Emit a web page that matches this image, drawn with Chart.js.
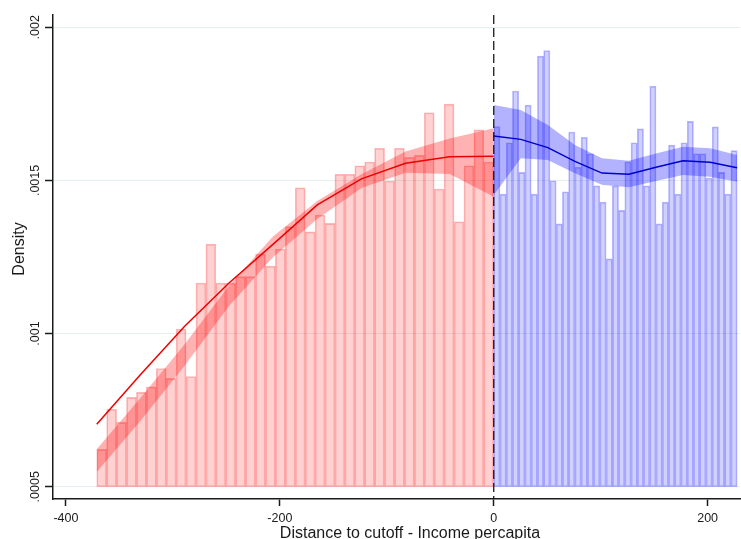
<!DOCTYPE html>
<html lang="en">
<head>
    <meta charset="utf-8"/>
    <title>Density around cutoff</title>
    <script src="https://cdn.jsdelivr.net/npm/chart.js@4"></script>
    <style>
        body {
            margin: 0;
            background: #fff;
        }
        #wrap {
            width: 741px;
            height: 539px;
        }
    </style>
</head>
<body>
<div id="wrap"><canvas id="chart" width="741" height="539"></canvas></div>

<script>
    // Histogram bins: left side (below cutoff) and right side (above cutoff)
    const barBase = 0.0005;
    const redStart = -371.2;
    const redWidth = 9.28;
    const redDensity = [
        0.000622, 0.000753, 0.000710, 0.000792, 0.000808, 0.000826, 0.000886, 0.000854, 0.001015, 0.000860,
        0.001165, 0.001292, 0.001165, 0.001165, 0.001186, 0.001186, 0.001260, 0.001220, 0.001276, 0.001349,
        0.001476, 0.001332, 0.001387, 0.001360, 0.001520, 0.001520, 0.001548, 0.001560, 0.001605, 0.001498,
        0.001605, 0.001575, 0.001582, 0.001721, 0.001472, 0.001749, 0.001365, 0.001548, 0.001665, 0.001560
    ];
    const blueStart = 0;
    const blueWidth = 5.836;
    const blueDensity = [
        0.001676, 0.001455, 0.001623, 0.001792, 0.001526, 0.001746, 0.001455, 0.001906, 0.001924, 0.001499,
        0.001358, 0.001463, 0.001658, 0.001543, 0.001641, 0.001587, 0.001482, 0.001429, 0.001244, 0.001482,
        0.001402, 0.001561, 0.001623, 0.001668, 0.001482, 0.001808, 0.001358, 0.001429, 0.001615, 0.001455,
        0.001623, 0.001693, 0.001587, 0.001587, 0.001508, 0.001675, 0.001526, 0.001455, 0.001597
    ];

    // Fitted density with confidence band, evaluated at 10 points per side
    const redFitX = [-371.2, -330, -289, -247.5, -206.2, -165, -123.7, -82.5, -41.2, 0];
    const redFit = [0.000704, 0.000867, 0.001024, 0.001165, 0.001292, 0.001420, 0.001505, 0.001556, 0.001577, 0.001579];
    const redHigh = [0.000622, 0.000791, 0.000965, 0.001156, 0.001318, 0.001433, 0.001520, 0.001594, 0.001637, 0.001670];
    const redLow = [0.000548, 0.000716, 0.000895, 0.001090, 0.001250, 0.001374, 0.001475, 0.001525, 0.001521, 0.001447];

    const blueFitX = [0, 25.3, 50.6, 75.9, 101.2, 126.4, 151.7, 177, 202.3, 227.6];
    const blueFit = [0.001645, 0.001634, 0.001607, 0.001562, 0.001524, 0.001520, 0.001543, 0.001564, 0.001559, 0.001541];
    const blueHigh = [0.001746, 0.001730, 0.001681, 0.001616, 0.001572, 0.001564, 0.001588, 0.001610, 0.001605, 0.001583];
    const blueLow = [0.001452, 0.001572, 0.001567, 0.001523, 0.001486, 0.001478, 0.001498, 0.001518, 0.001512, 0.001496];

    const xTicks = [-400, -200, 0, 200];
    const yTicks = [0.0005, 0.001, 0.0015, 0.002];
    const yTickLabels = ['.0005', '.001', '.0015', '.002'];
    const cutoff = 0;
    const xTitle = 'Distance to cutoff - Income percapita';
    const yTitle = 'Density';

    const xMin = -412.1, xMax = 230.5;
    const yMin = 0.00046, yMax = 0.00204;
    const fontFamily = "'Liberation Sans', Arial, sans-serif";
    const ink = '#1a1a1a';

    const bins = (start, width, values) =>
        values.map((v, i) => ({x: start + (i + 0.5) * width, y: [barBase, v]}));
    const points = (xs, ys) => xs.map((x, i) => ({x, y: ys[i]}));

    const lineStyle = {type: 'line', pointRadius: 0, tension: 0, fill: false, order: 0};
    const bandEdge = {type: 'line', pointRadius: 0, tension: 0, borderWidth: 0,
        borderColor: 'rgba(0,0,0,0)', order: 1};
    const barStyle = {type: 'bar', order: 2, grouped: false, borderWidth: 1, borderSkipped: false,
        barPercentage: 1, categoryPercentage: 1};

    // cutoff line, rotated y labels and axis titles
    const decorations = {
        id: 'decorations',
        afterDatasetsDraw(chart) {
            const {ctx, chartArea, scales} = chart;
            const xc = scales.x.getPixelForValue(cutoff);
            ctx.save();
            ctx.strokeStyle = ink;
            ctx.lineWidth = 1.3;
            ctx.setLineDash([9, 4]);
            ctx.beginPath();
            ctx.moveTo(xc, chartArea.top);
            ctx.lineTo(xc, chartArea.bottom);
            ctx.stroke();
            ctx.restore();
        },
        afterDraw(chart) {
            const {ctx, scales} = chart;
            ctx.save();
            ctx.fillStyle = ink;
            ctx.textAlign = 'center';
            ctx.textBaseline = 'middle';
            ctx.font = `12.5px ${fontFamily}`;
            yTicks.forEach((v, i) => {
                ctx.save();
                ctx.translate(35.5, scales.y.getPixelForValue(v));
                ctx.rotate(-Math.PI / 2);
                ctx.fillText(yTickLabels[i], 0, 0);
                ctx.restore();
            });
            ctx.font = `16px ${fontFamily}`;
            ctx.save();
            ctx.translate(19.5, 249);
            ctx.rotate(-Math.PI / 2);
            ctx.fillText(yTitle, 0, 0);
            ctx.restore();
            ctx.textBaseline = 'alphabetic';
            ctx.fillText(xTitle, 410, 537.5);
            ctx.restore();
        }
    };

    const chart = new Chart(document.getElementById('chart'), {
        type: 'bar',
        data: {
            datasets: [
                {...lineStyle, data: points(redFitX, redFit), borderColor: 'rgb(238,0,0)', borderWidth: 1.5},
                {...lineStyle, data: points(blueFitX, blueFit), borderColor: 'rgb(0,0,205)', borderWidth: 1.5},
                {...bandEdge, data: points(redFitX, redHigh), fill: false},
                {...bandEdge, data: points(redFitX, redLow), fill: '-1', backgroundColor: 'rgba(255,0,0,0.3)'},
                {...bandEdge, data: points(blueFitX, blueHigh), fill: false},
                {...bandEdge, data: points(blueFitX, blueLow), fill: '-1', backgroundColor: 'rgba(0,0,255,0.3)'},
                {
                    ...barStyle, xAxisID: 'x',
                    data: bins(redStart, redWidth, redDensity),
                    backgroundColor: 'rgba(255,0,0,0.18)', borderColor: 'rgba(255,0,0,0.28)'
                },
                {
                    ...barStyle, xAxisID: 'x2',
                    data: bins(blueStart, blueWidth, blueDensity),
                    backgroundColor: 'rgba(0,0,255,0.18)', borderColor: 'rgba(0,0,255,0.28)'
                }
            ]
        },
        options: {
            responsive: false,
            animation: false,
            layout: {padding: {top: 15, left: 0, right: 0, bottom: 0}},
            plugins: {legend: {display: false}, tooltip: {enabled: false}},
            scales: {
                x: {
                    type: 'linear', min: xMin, max: xMax, offset: false,
                    grid: {offset: false, drawOnChartArea: false, tickLength: 7, tickColor: ink, tickWidth: 1.5},
                    border: {display: true, color: ink, width: 1.5},
                    ticks: {
                        font: {family: fontFamily, size: 12.5}, color: ink, padding: 5,
                        maxRotation: 0, autoSkip: false, callback: v => String(v)
                    },
                    afterBuildTicks: s => { s.ticks = xTicks.map(v => ({value: v})); },
                    afterFit: s => { s.height = 40; }
                },
                x2: {type: 'linear', min: xMin, max: xMax, offset: false, display: false},
                y: {
                    type: 'linear', min: yMin, max: yMax, beginAtZero: false,
                    grid: {color: '#e6eff1', lineWidth: 1, tickLength: 8, tickColor: ink, tickWidth: 1.5},
                    border: {display: true, color: ink, width: 1.5},
                    ticks: {display: false},
                    afterBuildTicks: s => { s.ticks = yTicks.map(v => ({value: v})); },
                    afterFit: s => { s.width = 53; }
                }
            }
        },
        plugins: [decorations]
    });

    // bars span their full bin width on the x scale
    const xs = chart.scales.x;
    const pxPerUnit = xs.getPixelForValue(1) - xs.getPixelForValue(0);
    chart.data.datasets[6].barThickness = redWidth * pxPerUnit;
    chart.data.datasets[7].barThickness = blueWidth * pxPerUnit;
    chart.update();
</script>
</body>
</html>
